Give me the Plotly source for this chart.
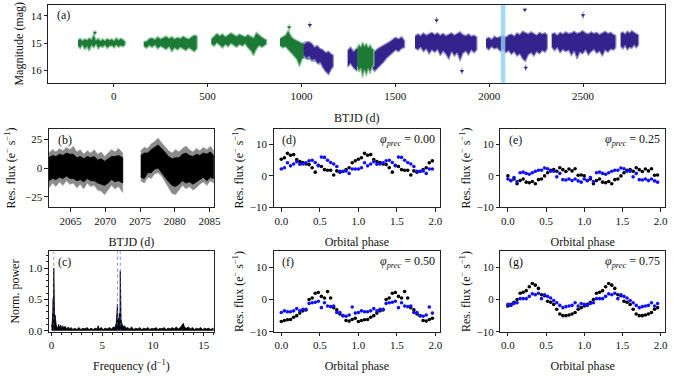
import plotly.graph_objects as go

serif = "Times New Roman, Liberation Serif, DejaVu Serif, serif"
green = "#1d7a36"
green_light = "#86c294"
purple = "#34238c"
purple_light = "#948ccb"

# ---- (a) long-term light curve, envelopes of the dense point clouds (mag)
g1_t = [-190, -178, -166, -154, -142, -130, -118, -106, -94, -82, -70, -58, -46, -34, -22, -10, 2, 14, 26, 38, 50, 62]
g1_top = [14.88, 14.82, 14.90, 14.84, 14.88, 14.80, 14.86, 14.66, 14.88, 14.82, 14.90, 14.84, 14.90, 14.82, 14.88, 14.84, 14.90, 14.80, 14.88, 14.82, 14.86, 14.94]
g1_bot = [15.12, 15.20, 15.08, 15.24, 15.14, 15.30, 15.10, 15.18, 15.06, 15.22, 15.12, 15.16, 15.08, 15.20, 15.12, 15.10, 15.18, 15.08, 15.16, 15.10, 15.14, 15.06]

g2_t = [160, 175, 190, 205, 220, 235, 250, 265, 280, 295, 310, 325, 340, 355, 370, 385, 400, 415, 430, 445]
g2_top = [14.94, 14.92, 14.82, 14.80, 14.86, 14.76, 14.84, 14.78, 14.74, 14.82, 14.76, 14.84, 14.78, 14.82, 14.74, 14.80, 14.84, 14.76, 14.70, 14.74]
g2_bot = [15.12, 15.20, 15.10, 15.16, 15.08, 15.22, 15.12, 15.18, 15.24, 15.14, 15.32, 15.18, 15.26, 15.16, 15.22, 15.28, 15.18, 15.24, 15.32, 15.20]

g3_t = [520, 535, 550, 565, 580, 595, 610, 625, 640, 655, 670, 685, 700, 715, 730, 745, 760, 775, 790, 805, 815]
g3_top = [14.84, 14.74, 14.64, 14.72, 14.66, 14.76, 14.70, 14.62, 14.68, 14.74, 14.66, 14.72, 14.76, 14.68, 14.74, 14.80, 14.60, 14.70, 14.78, 14.84, 14.88]
g3_bot = [15.04, 15.12, 15.00, 15.10, 15.18, 15.06, 15.14, 15.02, 15.10, 15.16, 15.06, 15.12, 15.04, 15.18, 15.28, 15.46, 15.24, 15.10, 15.16, 15.08, 15.04]

g4_t = [886, 900, 915, 930, 945, 960, 975, 990, 1005, 1020, 1035, 1050, 1065, 1080, 1095, 1110, 1125, 1140]
g4_top = [14.82, 14.76, 14.70, 14.52, 14.74, 14.84, 14.90, 14.94, 15.00, 14.96, 15.04, 15.10, 15.08, 15.18, 15.24, 15.22, 15.34, 15.40]
g4_bot = [15.10, 15.18, 15.14, 15.26, 15.36, 15.48, 15.60, 15.86, 15.58, 15.54, 15.62, 15.56, 15.68, 15.62, 15.78, 15.72, 15.88, 15.98]

g5_t = [1296, 1306, 1316, 1326, 1336, 1346, 1356, 1366, 1376, 1386]
g5_top = [15.20, 15.04, 15.14, 14.96, 15.10, 15.00, 15.16, 15.06, 15.18, 15.24]
g5_bot = [15.86, 16.06, 15.92, 16.26, 15.98, 16.20, 15.94, 16.12, 15.90, 15.82]

p1_t = [1012, 1025, 1040, 1055, 1070, 1085, 1100, 1115, 1130, 1145, 1160, 1170]
p1_top = [15.04, 14.96, 14.94, 15.00, 15.14, 15.08, 15.20, 15.24, 15.34, 15.30, 15.40, 15.44]
p1_bot = [15.46, 15.58, 15.50, 15.66, 15.60, 15.76, 15.72, 15.92, 16.06, 16.16, 15.96, 15.86]

p2_t = [1246, 1262, 1278, 1294, 1310, 1326, 1342, 1358, 1374, 1390, 1406, 1422, 1438, 1454, 1470, 1486, 1502, 1518, 1534, 1550]
p2_top = [15.26, 15.14, 15.30, 15.18, 15.24, 15.16, 15.28, 15.14, 15.22, 15.30, 15.20, 15.14, 15.08, 15.02, 14.94, 14.86, 14.78, 14.84, 14.76, 14.90]
p2_bot = [15.88, 15.76, 15.92, 16.02, 15.86, 15.96, 15.82, 15.98, 15.90, 16.04, 15.94, 15.82, 15.70, 15.56, 15.44, 15.36, 15.26, 15.32, 15.20, 15.16]

p3_t = [1605, 1620, 1635, 1650, 1665, 1680, 1695, 1710, 1725, 1740, 1755, 1770, 1785, 1800, 1815, 1830, 1845, 1860, 1875, 1890, 1905, 1920, 1935]
p3_top = [14.74, 14.66, 14.72, 14.62, 14.70, 14.64, 14.60, 14.68, 14.62, 14.70, 14.64, 14.72, 14.66, 14.62, 14.70, 14.64, 14.58, 14.68, 14.72, 14.66, 14.74, 14.70, 14.78]
p3_bot = [15.18, 15.26, 15.16, 15.32, 15.22, 15.40, 15.26, 15.34, 15.24, 15.46, 15.30, 15.42, 15.60, 15.32, 15.48, 15.36, 15.66, 15.38, 15.30, 15.44, 15.26, 15.36, 15.24]

p4_t = [1983, 1998, 2013, 2028, 2043, 2058, 2073, 2088, 2103, 2118, 2133, 2148, 2163, 2178, 2193, 2208, 2223, 2238, 2253, 2268, 2283, 2298, 2310]
p4_top = [14.84, 14.78, 14.86, 14.74, 14.80, 14.76, 14.72, 14.78, 14.70, 14.66, 14.74, 14.62, 14.68, 14.56, 14.60, 14.66, 14.58, 14.64, 14.70, 14.60, 14.66, 14.62, 14.70]
p4_bot = [15.16, 15.26, 15.14, 15.22, 15.18, 15.30, 15.24, 15.36, 15.28, 15.42, 15.32, 15.48, 15.40, 15.58, 15.68, 15.44, 15.36, 15.48, 15.32, 15.40, 15.28, 15.34, 15.20]

p5_t = [2333, 2348, 2363, 2378, 2393, 2408, 2423, 2438, 2453, 2468, 2483, 2498, 2513, 2528, 2543, 2558, 2573, 2588, 2603, 2618, 2633, 2648, 2663, 2675]
p5_top = [14.66, 14.62, 14.70, 14.60, 14.66, 14.58, 14.64, 14.62, 14.56, 14.64, 14.60, 14.54, 14.62, 14.66, 14.58, 14.64, 14.60, 14.68, 14.62, 14.56, 14.64, 14.60, 14.68, 14.72]
p5_bot = [15.16, 15.28, 15.18, 15.36, 15.24, 15.32, 15.26, 15.46, 15.30, 15.58, 15.34, 15.40, 15.26, 15.44, 15.32, 15.24, 15.38, 15.30, 15.48, 15.26, 15.34, 15.22, 15.26, 15.16]

p6_t = [2700, 2712, 2724, 2736, 2748, 2760, 2772, 2784, 2796]
p6_top = [14.64, 14.58, 14.66, 14.56, 14.62, 14.54, 14.60, 14.64, 14.70]
p6_bot = [15.12, 15.22, 15.10, 15.26, 15.16, 15.20, 15.08, 15.18, 15.06]

# isolated points
out_p_t = [1045, 1720, 1855, 2190, 2195, 2500]
out_p_mag = [14.34, 14.16, 16.02, 13.78, 15.90, 13.98]
out_p_err = [0.12, 0.12, 0.12, 0.08, 0.12, 0.14]
out_g_t = [-100, 935]
out_g_mag = [14.62, 14.42]
out_g_err = [0.1, 0.12]

tess_window = [2062, 2086]

# ---- (b) TESS residual flux, outer (grey) and core (black) envelopes
b1_t = [2061.9, 2062.4, 2062.9, 2063.4, 2063.9, 2064.4, 2064.9, 2065.4, 2065.9, 2066.4, 2066.9,
        2067.4, 2067.9, 2068.4, 2068.9, 2069.4, 2069.9, 2070.4, 2070.9, 2071.4, 2071.9, 2072.5]
b1_hi = [13, 16, 14, 17, 15, 18, 16, 19, 14, 16, 12, 15, 13, 16, 12, 14, 10, 13, 16, 14, 17, 13]
b1_lo = [-17, -13, -16, -12, -15, -11, -14, -13, -17, -14, -18, -13, -16, -15, -19, -20, -23, -19, -15, -18, -16, -21]
b1_core_hi = [9, 11, 10, 12, 11, 13, 12, 12, 9, 10, 8, 10, 9, 10, 7, 8, 6, 8, 10, 10, 11, 9]
b1_core_lo = [-11, -9, -10, -8, -9, -7, -9, -9, -11, -10, -12, -9, -11, -11, -13, -14, -15, -13, -10, -12, -11, -13]

b2_t = [2075.1, 2075.6, 2076.1, 2076.6, 2077.1, 2077.6, 2078.1, 2078.6, 2079.1, 2079.6, 2080.1,
        2080.6, 2081.1, 2081.6, 2082.1, 2082.6, 2083.1, 2083.6, 2084.1, 2084.6, 2085.1, 2085.6]
b2_hi = [15, 18, 17, 21, 23, 26, 22, 18, 15, 13, 16, 14, 17, 19, 16, 14, 17, 15, 18, 16, 19, 15]
b2_lo = [-11, -13, -8, -9, -5, -4, -7, -12, -17, -22, -23, -19, -15, -18, -16, -19, -17, -14, -12, -15, -11, -13]
b2_core_hi = [11, 13, 13, 16, 18, 20, 17, 13, 10, 8, 9, 9, 12, 13, 11, 10, 12, 11, 13, 12, 14, 11]
b2_core_lo = [-8, -9, -4, -4, -1, 0, -3, -8, -12, -15, -16, -14, -11, -13, -12, -14, -12, -10, -8, -11, -8, -9]

# ---- (c) periodogram
c_freq = [0.0, 0.06, 0.12, 0.16, 0.19, 0.22, 0.25, 0.28, 0.31, 0.35,
          0.4, 0.46, 0.52, 0.6, 0.7, 0.8, 0.9, 1.0, 1.1, 1.2,
          1.35, 1.5, 1.65, 1.8, 1.95, 2.1, 2.3, 2.5, 2.7, 2.9,
          3.1, 3.3, 3.5, 3.7, 3.9, 4.1, 4.3, 4.5, 4.6, 4.7,
          4.9, 5.1, 5.3, 5.5, 5.7, 5.9, 6.1, 6.25, 6.38, 6.46,
          6.5, 6.54, 6.6, 6.66, 6.71, 6.75, 6.78, 6.81, 6.86, 6.92,
          7.0, 7.1, 7.2, 7.35, 7.5, 7.7, 7.9, 8.1, 8.3, 8.5,
          8.7, 8.9, 9.1, 9.3, 9.5, 9.7, 9.9, 10.1, 10.3, 10.5,
          10.7, 10.9, 11.1, 11.3, 11.5, 11.7, 11.9, 12.1, 12.3, 12.5,
          12.7, 12.9, 13.0, 13.1, 13.3, 13.5, 13.7, 13.9, 14.1, 14.3,
          14.5, 14.7, 14.9, 15.1, 15.3, 15.5, 15.7, 15.9, 16.0]
c_power = [0.06, 0.12, 0.30, 0.52, 0.35, 1.00, 0.30, 0.42, 0.20, 0.25,
           0.14, 0.10, 0.06, 0.04, 0.10, 0.05, 0.09, 0.04, 0.08, 0.05,
           0.07, 0.03, 0.06, 0.03, 0.05, 0.02, 0.04, 0.02, 0.05, 0.02,
           0.04, 0.03, 0.05, 0.02, 0.04, 0.02, 0.04, 0.03, 0.08, 0.03,
           0.05, 0.02, 0.04, 0.03, 0.05, 0.03, 0.06, 0.05, 0.12, 0.25,
           0.42, 0.18, 0.20, 0.16, 0.28, 0.22, 0.95, 0.24, 0.18, 0.12,
           0.09, 0.06, 0.08, 0.04, 0.05, 0.03, 0.06, 0.02, 0.04, 0.03,
           0.05, 0.02, 0.04, 0.03, 0.05, 0.02, 0.04, 0.03, 0.05, 0.02,
           0.04, 0.03, 0.05, 0.02, 0.04, 0.03, 0.05, 0.03, 0.06, 0.03,
           0.05, 0.09, 0.12, 0.06, 0.04, 0.06, 0.03, 0.05, 0.02, 0.04,
           0.03, 0.05, 0.02, 0.04, 0.03, 0.04, 0.02, 0.04, 0.03]
marked_freqs = [0.22, 6.5, 6.78]

# ---- (d)-(g) phase-folded residual flux, 25 bins per orbit
phase = [0.00, 0.04, 0.08, 0.12, 0.16, 0.20, 0.24, 0.28, 0.32, 0.36, 0.40, 0.44, 0.48,
         0.52, 0.56, 0.60, 0.64, 0.68, 0.72, 0.76, 0.80, 0.84, 0.88, 0.92, 0.96]
prec_phases = ["0.00", "0.25", "0.50", "0.75"]
black_d = [5.3, 5.8, 7.2, 6.6, 6.8, 5.2, 4.6, 4.3, 3.8, 3.6, 2.6, 1.2, 3.4, 3.0, 2.0, 1.8, 1.8, 0.3, 1.6, 1.2, 1.5, 2.0, 2.6, 4.2, 4.8]
blue_d = [2.2, 2.6, 4.2, 3.2, 3.8, 4.5, 3.7, 3.8, 4.2, 4.8, 5.0, 4.3, 3.2, 6.0, 5.9, 5.0, 4.3, 3.8, 3.0, 1.5, 1.4, 1.6, 0.8, 2.2, 2.2]
black_e = [0.0, -1.5, -1.0, -2.5, -1.5, -1.0, -2.0, -2.2, -1.8, -2.5, -1.2, -1.0, 0.0, 1.0, 1.8, 2.0, 1.5, 2.6, 2.0, 1.4, 2.2, 1.6, 2.3, 0.2, 0.3]
blue_e = [-1.0, -1.5, -0.5, -1.8, 1.0, 1.2, 0.8, 0.5, 1.0, 1.5, 1.8, 1.8, 2.5, 2.3, 1.5, 1.5, -0.3, 0.8, -1.2, -1.3, -1.0, -1.5, -1.0, -1.6, -2.0]
black_f = [-6.8, -6.5, -6.3, -6.2, -5.5, -5.0, -4.2, -3.5, -3.2, 0.0, 0.5, 2.0, 2.2, 1.0, 0.5, 2.5, 0.5, -2.5, -3.2, -4.5, -5.0, -6.5, -6.7, -6.2, -5.8]
blue_f = [-4.0, -3.5, -3.8, -3.8, -3.5, -2.8, -3.5, -3.0, -3.0, -1.2, -1.0, -0.8, -0.5, -2.5, -1.0, -2.0, -2.2, -2.0, -4.0, -4.0, -5.0, -5.2, -4.8, -2.3, -4.2]
black_g = [-2.0, -1.5, -0.8, 0.0, 2.0, 2.3, 2.8, 4.0, 5.0, 4.5, 3.5, 1.5, 1.2, -0.5, -0.8, -1.5, -3.0, -4.5, -5.0, -5.0, -4.8, -4.5, -4.0, -3.0, -2.5]
blue_g = [-1.5, -1.8, -1.2, -1.0, 0.3, 0.3, 0.3, 1.0, 1.8, 1.5, 2.0, 0.3, 1.5, 1.0, 0.5, -0.3, -1.0, -1.8, -2.5, -2.2, -2.0, -1.8, -1.0, -2.0, -1.2]

W, H = 680, 381


def xdom(a, b):
    return [a / W, b / W]


def ydom(top, bottom):
    return [1 - bottom / H, 1 - top / H]


def axis(domain, **kw):
    d = dict(domain=domain, showline=True, linecolor="#222", linewidth=1, mirror=True,
             ticks="outside", ticklen=3.5, tickwidth=0.8, tickcolor="#222",
             showgrid=False, zeroline=False,
             tickfont=dict(family=serif, size=11, color="#111"),
             title_font=dict(family=serif, size=12, color="#111"))
    d.update(kw)
    return d


def band(t, upper, lower, fill, edge, xa, ya, width=1.2):
    return go.Scatter(x=t + t[::-1], y=upper + lower[::-1], mode="lines", fill="toself",
                      fillcolor=fill, line=dict(color=edge, width=width),
                      xaxis=xa, yaxis=ya, hoverinfo="skip", showlegend=False)


fig = go.Figure()

# (a)
for t, top, bot in [(g1_t, g1_top, g1_bot), (g2_t, g2_top, g2_bot), (g3_t, g3_top, g3_bot), (g4_t, g4_top, g4_bot)]:
    fig.add_trace(band(t, top, bot, green, green_light, "x", "y"))
for t, top, bot in [(p1_t, p1_top, p1_bot), (p2_t, p2_top, p2_bot), (p3_t, p3_top, p3_bot),
                    (p4_t, p4_top, p4_bot), (p5_t, p5_top, p5_bot), (p6_t, p6_top, p6_bot)]:
    fig.add_trace(band(t, top, bot, purple, purple_light, "x", "y"))
fig.add_trace(band(g5_t, g5_top, g5_bot, green, green_light, "x", "y"))
fig.add_trace(go.Scatter(x=out_p_t, y=out_p_mag, mode="markers", xaxis="x", yaxis="y",
                         marker=dict(symbol="triangle-down", size=4, color=purple),
                         error_y=dict(array=out_p_err, color=purple_light, thickness=1, width=0),
                         showlegend=False))
fig.add_trace(go.Scatter(x=out_g_t, y=out_g_mag, mode="markers", xaxis="x", yaxis="y",
                         marker=dict(symbol="triangle-down", size=4, color=green),
                         error_y=dict(array=out_g_err, color=green_light, thickness=1, width=0),
                         showlegend=False))

# (b)
for t, hi, lo, chi, clo in [(b1_t, b1_hi, b1_lo, b1_core_hi, b1_core_lo), (b2_t, b2_hi, b2_lo, b2_core_hi, b2_core_lo)]:
    fig.add_trace(band(t, hi, lo, "#8a8a8a", "#9a9a9a", "x2", "y2", width=0.8))
    fig.add_trace(band(t, chi, clo, "black", "black", "x2", "y2", width=0.8))

# (c)
fig.add_trace(go.Scatter(x=c_freq, y=c_power, mode="lines", fill="tozeroy", fillcolor="black",
                         line=dict(color="black", width=0.8), xaxis="x3", yaxis="y3", showlegend=False))

# (d)-(g)
panels = [("x4", "y4", black_d, blue_d), ("x5", "y5", black_e, blue_e),
          ("x6", "y6", black_f, blue_f), ("x7", "y7", black_g, blue_g)]
two_cycles = phase + [p + 1 for p in phase]
for xa, ya, blk, blu in panels:
    fig.add_trace(go.Scatter(x=two_cycles, y=blk + blk, mode="markers", xaxis=xa, yaxis=ya,
                             marker=dict(size=3.6, color="black"), showlegend=False))
    fig.add_trace(go.Scatter(x=two_cycles, y=blu + blu, mode="markers", xaxis=xa, yaxis=ya,
                             marker=dict(size=3.6, color="#1010ff"), showlegend=False))

flux_title = "Res. flux (e<sup>−</sup> s<sup>−1</sup>)"
row1 = ydom(131, 210.5)
row2 = ydom(255.5, 337)
col1 = xdom(49.5, 216)
col2 = xdom(276.6, 444.5)
col3 = xdom(505.6, 672)
phase_x = dict(range=[-0.098, 2.058], tickvals=[0, 0.5, 1, 1.5, 2], tickformat=".1f",
               title_text="Orbital phase", title_standoff=11)
flux_y = dict(range=[-10, 15], tickvals=[-10, 0, 10], title_text=flux_title, title_standoff=3)

fig.update_layout(
    width=W, height=H, margin=dict(l=0, r=0, t=0, b=0),
    plot_bgcolor="white", paper_bgcolor="white",
    font=dict(family=serif, size=11, color="#111"),
    xaxis=axis(xdom(49, 672), anchor="y", range=[-347, 2937], dtick=500,
               title_text="BTJD (d)", title_standoff=12),
    yaxis=axis(ydom(5, 84), anchor="x", range=[16.45, 13.6], tickvals=[14, 15, 16],
               title_text="Magnitude (mag)", title_standoff=4),
    xaxis2=axis(col1, anchor="y2", range=[2061.9, 2085.6], tickvals=[2065, 2070, 2075, 2080, 2085],
                title_text="BTJD (d)", title_standoff=11),
    yaxis2=axis(row1, anchor="x2", range=[-34, 34], tickvals=[-25, 0, 25],
                title_text=flux_title, title_standoff=6),
    xaxis3=axis(col1, anchor="y3", range=[-0.25, 16], tickvals=[0, 5, 10, 15],
                minor=dict(dtick=1, ticks="outside", ticklen=2, tickcolor="#222"),
                title_text="Frequency (d<sup>−1</sup>)", title_standoff=11),
    yaxis3=axis(row2, anchor="x3", range=[-0.015, 1.265], tickvals=[0, 0.5, 1.0], tickformat=".1f",
                minor=dict(dtick=0.1, ticks="outside", ticklen=2, tickcolor="#222"),
                title_text="Norm. power", title_standoff=6),
    xaxis4=axis(col2, anchor="y4", **phase_x),
    yaxis4=axis(row1, anchor="x4", **flux_y),
    xaxis5=axis(col3, anchor="y5", **phase_x),
    yaxis5=axis(row1, anchor="x5", **flux_y),
    xaxis6=axis(col2, anchor="y6", **phase_x),
    yaxis6=axis(row2, anchor="x6", **flux_y),
    xaxis7=axis(col3, anchor="y7", **phase_x),
    yaxis7=axis(row2, anchor="x7", **flux_y),
)

fig.add_shape(type="rect", xref="x", yref="y domain", x0=tess_window[0], x1=tess_window[1], y0=0, y1=1,
              fillcolor="#8fd0ef", opacity=0.8, line_width=0, layer="above")
for f in marked_freqs:
    fig.add_shape(type="line", xref="x3", yref="y3 domain", x0=f, x1=f, y0=0, y1=1,
                  line=dict(color="#5a5aff", width=0.9, dash="dot"), opacity=0.8)

labels = [("x", "y", "(a)"), ("x2", "y2", "(b)"), ("x3", "y3", "(c)"), ("x4", "y4", "(d)"),
          ("x5", "y5", "(e)"), ("x6", "y6", "(f)"), ("x7", "y7", "(g)")]
for xa, ya, txt in labels:
    fig.add_annotation(x=0.01 if xa == "x" else 0.04, y=0.98, xref=xa + " domain", yref=ya + " domain",
                       text=txt, showarrow=False, xanchor="left", yanchor="top",
                       font=dict(family=serif, size=12, color="#111"))
for (xa, ya, _, _), pp in zip(panels, prec_phases):
    fig.add_annotation(x=0.98, y=0.99, xref=xa + " domain", yref=ya + " domain",
                       text="<i>φ</i><sub><i>prec</i></sub> = " + pp, showarrow=False,
                       xanchor="right", yanchor="top", font=dict(family=serif, size=12, color="#111"))

# the page's default body margin pushes the 680x381 figure out of the window
fig.write_html("out.html", config={"displayModeBar": False},
               post_script="document.body.style.margin = '0';")
